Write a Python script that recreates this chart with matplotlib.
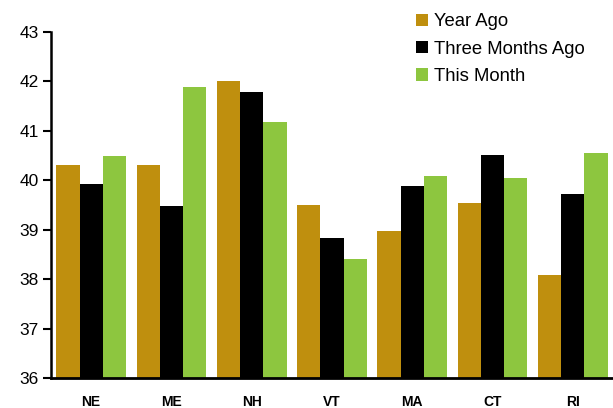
import numpy as np
import matplotlib.pyplot as plt

plt.rcParams['font.family'] = ['Liberation Sans', 'DejaVu Sans']

states = ['NE', 'ME', 'NH', 'VT', 'MA', 'CT', 'RI']
year_ago = [40.31, 40.31, 42.01, 39.50, 38.97, 39.54, 38.08]
three_months_ago = [39.92, 39.48, 41.79, 38.83, 39.88, 40.51, 39.72]
this_month = [40.49, 41.89, 41.18, 38.41, 40.09, 40.05, 40.55]

fig = plt.figure(figsize=(6.13, 4.08), dpi=100)
ax = fig.add_axes([51 / 613, 30 / 408, 562 / 613, 346 / 408])

x = np.arange(len(states))
w = 0.29
ax.bar(x - w, year_ago, w, color='#BF8F0E', label='Year Ago')
ax.bar(x, three_months_ago, w, color='#000000', label='Three Months Ago')
ax.bar(x + w, this_month, w, color='#8DC63F', label='This Month')

ax.set_ylim(36, 43)
ax.set_xlim(-0.5, 6.5)
ax.set_yticks(range(36, 44))
ax.set_xticks(x)
ax.set_xticklabels(states, fontweight='bold', fontsize=10)
ax.tick_params(axis='x', length=0, pad=12)
ax.tick_params(axis='y', direction='out', length=6, width=1.5, labelsize=12.5, pad=3)

for s in ['top', 'right']:
    ax.spines[s].set_visible(False)
ax.spines['left'].set_linewidth(1.8)
ax.spines['bottom'].set_linewidth(2)

fig.legend(loc='upper left', bbox_to_anchor=(406 / 613, 405 / 408), frameon=False,
           fontsize=13.3, handlelength=0.65, handleheight=0.65,
           handletextpad=0.3, labelspacing=0.56, borderaxespad=0.15)

fig.savefig('out.png', dpi=100)
